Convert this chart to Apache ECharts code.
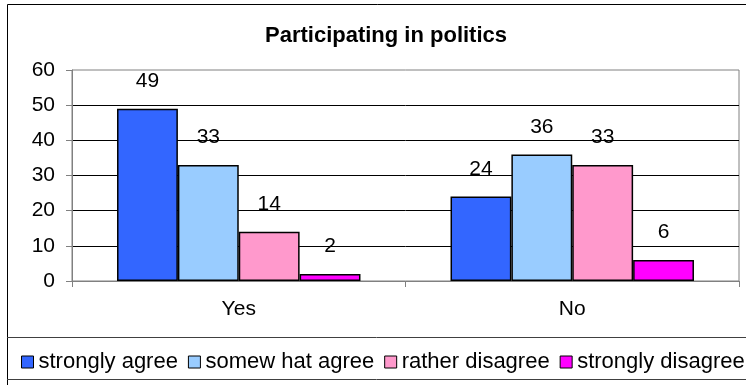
<!DOCTYPE html>
<html>
<head>
<meta charset="utf-8">
<script src="https://cdn.jsdelivr.net/npm/echarts@6/dist/echarts.min.js"></script>
<style>
html,body{margin:0;padding:0;background:#fff;}
#c{width:746px;height:385px;}
</style>
</head>
<body>
<div id="c"></div>
<script>
var categories = ['Yes', 'No'];
var seriesNames = ['strongly agree', 'somew hat agree', 'rather disagree', 'strongly disagree'];
var stronglyAgree = [49, 24];
var somewhatAgree = [33, 36];
var ratherDisagree = [14, 33];
var stronglyDisagree = [2, 6];
var colors = ['#3366FF', '#99CCFF', '#FF99CC', '#FF00FF'];
var yTicks = [0, 10, 20, 30, 40, 50, 60];

var FONT = '"Liberation Sans", Arial, sans-serif';
var values = [stronglyAgree, somewhatAgree, ratherDisagree, stronglyDisagree];

var chart = echarts.init(document.getElementById('c'), null, {renderer: 'canvas'});
var series = seriesNames.map(function (n, i) {
  return {
    name: n,
    type: 'bar',
    data: values[i],
    barGap: '0%',
    barCategoryGap: '27%',
    itemStyle: {color: colors[i], borderColor: '#000', borderWidth: 1.5},
    label: {show: true, position: 'top', distance: 17, color: '#000',
      fontFamily: FONT, fontSize: 21},
    emphasis: {disabled: true}
  };
});

chart.setOption({
  animation: false,
  backgroundColor: '#fff',
  textStyle: {fontFamily: FONT},
  title: {
    text: 'Participating in politics',
    left: 260, top: 20,
    textStyle: {fontFamily: FONT, fontSize: 22, fontWeight: 'bold', color: '#000'}
  },
  legend: {
    data: seriesNames,
    left: 16, top: 346, width: 900,
    itemWidth: 12, itemHeight: 12, itemGap: 10,
    icon: 'rect',
    itemStyle: {borderColor: '#000', borderWidth: 1},
    textStyle: {fontFamily: FONT, fontSize: 22, color: '#000'}
  },
  grid: {left: 72, right: 7, top: 70, bottom: 104, show: true,
    borderColor: '#808080', borderWidth: 1},
  xAxis: {
    type: 'category', data: categories,
    axisLine: {lineStyle: {color: '#808080', width: 1}},
    axisTick: {show: true, length: 6, lineStyle: {color: '#808080'}},
    axisLabel: {color: '#000', fontFamily: FONT, fontSize: 21, margin: 18}
  },
  yAxis: {
    type: 'value', min: yTicks[0], max: yTicks[yTicks.length - 1], interval: 10,
    axisLine: {show: true, lineStyle: {color: '#808080', width: 1}},
    axisTick: {show: true, length: 6, lineStyle: {color: '#808080'}},
    axisLabel: {color: '#000', fontFamily: FONT, fontSize: 21, margin: 17},
    splitLine: {show: true, showMaxLine: false, lineStyle: {color: '#000', width: 1}}
  },
  graphic: [
    {type: 'rect', shape: {x: 7.5, y: 4.5, width: 760, height: 420},
      style: {fill: null, stroke: '#000', lineWidth: 1}, silent: true, z: -1},
    {type: 'line', shape: {x1: 7, y1: 337.5, x2: 746, y2: 337.5},
      style: {stroke: '#404040', lineWidth: 1}, silent: true},
    {type: 'line', shape: {x1: 7, y1: 379.5, x2: 746, y2: 379.5},
      style: {stroke: '#404040', lineWidth: 1}, silent: true}
  ],
  series: series
});
</script>
</body>
</html>
